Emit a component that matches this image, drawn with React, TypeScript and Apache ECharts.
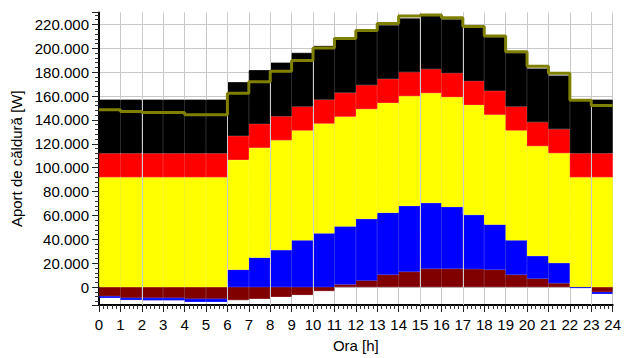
import React, { useEffect, useRef } from "react";
import * as echarts from "echarts";

const categories = ["0", "1", "2", "3", "4", "5", "6", "7", "8", "9", "10", "11", "12", "13", "14", "15", "16", "17", "18", "19", "20", "21", "22", "23"];

const maroonValues = [-7700, -9000, -9000, -9000, -9800, -9800, -10900, -9800, -8200, -6600, -3300, 2200, 5500, 10400, 12900, 15400, 15400, 15100, 14600, 10400, 7100, 3200, 0, -4200];
const blueValues = [-1300, -1800, -2100, -2100, -2600, -2600, 14600, 24700, 31000, 39200, 45000, 48600, 51600, 51900, 55100, 55100, 51800, 45500, 37800, 28800, 19000, 17000, -800, -1500];
const yellowValues = [92000, 92000, 92000, 92000, 92000, 92000, 92000, 92000, 92000, 92000, 92000, 92000, 92000, 92000, 92000, 92000, 92000, 92000, 92000, 92000, 92000, 92000, 92000, 92000];
const redValues = [20000, 20000, 20000, 20000, 20000, 20000, 20000, 20000, 20000, 20000, 20000, 20000, 20000, 20000, 20000, 20000, 20000, 20000, 20000, 20000, 20000, 20000, 20000, 20000];
const blackValues = [45000, 45000, 45000, 45000, 45000, 45000, 45000, 45000, 45000, 45000, 45000, 45000, 45000, 45000, 45000, 45000, 45000, 45000, 45000, 45000, 45000, 45000, 45000, 45000];
const netValues = [148600, 147000, 146200, 146200, 144300, 144300, 162400, 171900, 180700, 189800, 200200, 208300, 215000, 220800, 227000, 227900, 225700, 218300, 210400, 197200, 184900, 179100, 156500, 152000];
const seamHours = [2, 6, 8, 10, 15, 17, 23];

const FONT = "'Liberation Sans', Arial, sans-serif";

function fmt(v: number): string {
  const n = Math.round(v);
  if (n === 0) return "0";
  const s = String(Math.abs(n)).replace(/\B(?=(\d{3})+(?!\d))/g, ".");
  return (n < 0 ? "-" : "") + s;
}

function barStyle(color: string) {
  return { color, borderColor: color, borderWidth: 0.8 };
}

export default function App() {
  const ref = useRef<HTMLDivElement>(null);
  useEffect(() => {
    const chart = echarts.init(ref.current!, null, { renderer: "svg" });
    const lineData: number[][] = netValues.map((v, i) => [i, v]);
    lineData.push([24, netValues[netValues.length - 1]]);
    const barBase = {
      type: "bar",
      xAxisIndex: 0,
      yAxisIndex: 0,
      stack: "heat",
      stackStrategy: "samesign",
      barWidth: "100%",
      barCategoryGap: "0%",
      z: 2,
    };
    const option: any = {
      animation: false,
      backgroundColor: "#ffffff",
      textStyle: { fontFamily: FONT },
      grid: { left: 99, right: 7, top: 12.5, bottom: 48, containLabel: false },
      xAxis: [
        { type: "category", data: categories, show: false, boundaryGap: true },
        {
          type: "value",
          min: 0,
          max: 24,
          interval: 1,
          position: "bottom",
          name: "Ora [h]",
          nameLocation: "middle",
          nameGap: 33,
          nameTextStyle: { fontSize: 15, color: "#000", fontFamily: FONT },
          axisLine: { show: true, onZero: false, lineStyle: { color: "#000", width: 2 } },
          axisTick: { show: true, length: 7, lineStyle: { color: "#222", width: 1 } },
          minorTick: { show: true, splitNumber: 5, length: 4, lineStyle: { color: "#333", width: 1 } },
          axisLabel: { fontSize: 15, color: "#000", margin: 12, fontFamily: FONT },
          splitLine: { show: true, lineStyle: { color: "#c8c8c8", width: 1 } },
        },
      ],
      yAxis: {
        type: "value",
        min: -15000,
        max: 230000,
        splitNumber: 12,
        minInterval: 20000,
        maxInterval: 20000,
        name: "Aport de căldură [W]",
        nameLocation: "middle",
        nameGap: 71,
        nameTextStyle: { fontSize: 15, color: "#000", fontFamily: FONT },
        axisLine: { show: true, onZero: false, lineStyle: { color: "#000", width: 2 } },
        axisTick: { show: true, length: 7, lineStyle: { color: "#222", width: 1 } },
        minorTick: { show: true, splitNumber: 5, length: 4, lineStyle: { color: "#333", width: 1 } },
        axisLabel: {
          fontSize: 15,
          color: "#000",
          margin: 10,
          fontFamily: FONT,
          showMinLabel: false,
          showMaxLabel: false,
          formatter: (v: number) => fmt(v),
        },
        splitLine: { show: true, showMinLine: false, showMaxLine: false, lineStyle: { color: "#c8c8c8", width: 1 } },
      },
      series: [
        { ...barBase, name: "maroon", data: maroonValues, itemStyle: barStyle("#800000") },
        { ...barBase, name: "blue", data: blueValues, itemStyle: barStyle("#0000ff") },
        { ...barBase, name: "yellow", data: yellowValues, itemStyle: barStyle("#ffff00") },
        { ...barBase, name: "red", data: redValues, itemStyle: barStyle("#ff0000") },
        { ...barBase, name: "black", data: blackValues, itemStyle: barStyle("#000000") },
        {
          type: "line",
          name: "seams",
          xAxisIndex: 1,
          yAxisIndex: 0,
          data: [],
          z: 3,
          markLine: {
            silent: true,
            symbol: ["none", "none"],
            label: { show: false },
            lineStyle: { color: "#cccccc", width: 1, type: "solid" },
            data: seamHours.map((h) => ({ xAxis: h })),
          },
        },
        {
          type: "line",
          name: "net",
          xAxisIndex: 1,
          yAxisIndex: 0,
          step: "end",
          data: lineData,
          symbol: "none",
          lineStyle: { color: "#808000", width: 3 },
          z: 5,
        },
      ],
    };
    chart.setOption(option);
    return () => chart.dispose();
  }, []);
  return (
    <div
      ref={ref}
      style={{ position: "fixed", left: 0, top: 0, width: 624, height: 358, background: "#fff" }}
    />
  );
}
